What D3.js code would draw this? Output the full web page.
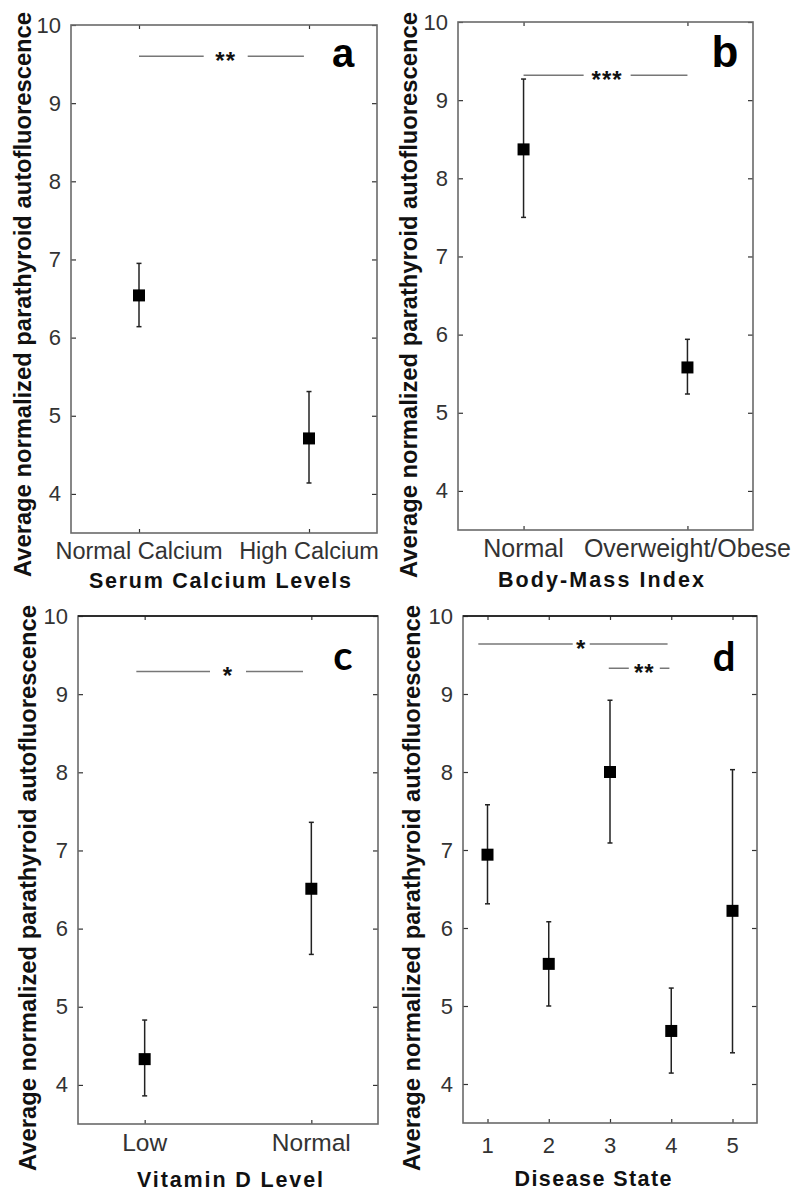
<!DOCTYPE html>
<html><head><meta charset="utf-8">
<script src="https://cdn.jsdelivr.net/npm/d3@7"></script>
<style>
html,body{margin:0;padding:0;background:#fff;}
svg{display:block;}
</style></head>
<body>
<svg id="chart" width="800" height="1191"></svg>
<script>
// ---------------- DATA ----------------
const yTicks = [4, 5, 6, 7, 8, 9, 10];
const yDomain = [3.5, 10];
const yLabelText = "Average normalized parathyroid autofluorescence";

const catsA = ["Normal Calcium", "High Calcium"];
const meanA = [6.54, 4.71];
const lowA  = [6.14, 4.14];
const highA = [6.95, 5.31];
const sigA  = [{x0: 1.0, x1: 1.97, xm: 1.51, y: 9.6, text: "**"}];

const catsB = ["Normal", "Overweight/Obese"];
const meanB = [8.37, 5.58];
const lowB  = [7.50, 5.24];
const highB = [9.27, 5.94];
const sigB  = [{x0: 1.0, x1: 2.0, xm: 1.51, y: 9.32, text: "***"}];

const catsC = ["Low", "Normal"];
const meanC = [4.33, 6.51];
const lowC  = [3.86, 5.67];
const highC = [4.83, 7.36];
const sigC  = [{x0: 0.95, x1: 1.95, xm: 1.50, y: 9.29, text: "*"}];

const catsD = ["1", "2", "3", "4", "5"];
const meanD = [6.94, 5.54, 8.00, 4.68, 6.22];
const lowD  = [6.31, 5.00, 7.09, 4.14, 4.40];
const highD = [7.58, 6.08, 8.92, 5.23, 8.03];
const sigD  = [
  {x0: 0.85, x1: 3.94, xm: 2.53, y: 9.64, text: "*"},
  {x0: 2.98, x1: 3.97, xm: 3.56, y: 9.33, text: "**"}
];

// ---------------- LAYOUT ----------------
const panels = [
  {cats: catsA, mean: meanA, low: lowA, high: highA, sig: sigA, gaps: [22],
   box: {l: 71, t: 25, r: 377, b: 533}, topDark: false,
   yLab: {x: 31, c: 294.5, len: 565},
   xTickY: 559, xTickFont: 23.5,
   xTitle: {text: "Serum Calcium Levels", x: 220, y: 588, len: 262},
   letter: {text: "a", x: 343, y: 67, size: 40, family: "Liberation Sans, Arial, sans-serif"}},
  {cats: catsB, mean: meanB, low: lowB, high: highB, sig: sigB, gaps: [23.5],
   box: {l: 458, t: 22, r: 753, b: 530}, topDark: false,
   yLab: {x: 417, c: 295, len: 566},
   xTickY: 557, xTickFont: 25,
   xTitle: {text: "Body-Mass Index", x: 601, y: 587, len: 206},
   letter: {text: "b", x: 725, y: 67, size: 44, family: "Liberation Sans, Arial, sans-serif"}},
  {cats: catsC, mean: meanC, low: lowC, high: highC, sig: sigC, gaps: [18],
   box: {l: 78, t: 616, r: 378, b: 1124}, topDark: true,
   yLab: {x: 36, c: 888, len: 566},
   xTickY: 1151, xTickFont: 24.5,
   xTitle: {text: "Vitamin D Level", x: 230, y: 1187, len: 186},
   letter: {text: "c", x: 343, y: 670, size: 40, family: "Lato, sans-serif"}},
  {cats: catsD, mean: meanD, low: lowD, high: highD, sig: sigD, gaps: [8.5, 15.5],
   box: {l: 463, t: 616, r: 757, b: 1123}, topDark: true,
   yLab: {x: 420, c: 888, len: 566},
   xTickY: 1153, xTickFont: 22,
   xTitle: {text: "Disease State", x: 593, y: 1186, len: 157},
   letter: {text: "d", x: 724, y: 671, size: 40, family: "Lato, sans-serif"}}
];

const svg = d3.select("#chart");
const FONT = "Liberation Sans, Arial, Helvetica, sans-serif";

panels.forEach(p => {
  const g = svg.append("g");
  const n = p.cats.length;
  const x = d3.scaleLinear().domain([0.6, n + 0.4]).range([p.box.l, p.box.r]);
  const y = d3.scaleLinear().domain(yDomain).range([p.box.b, p.box.t]);
  const catPos = p.cats.map((c, i) => i + 1);

  // y ticks (left axis, inward)
  const yAxisL = d3.axisLeft(y).tickValues(yTicks).tickSize(-5).tickPadding(10).tickFormat(d3.format("d"));
  const gl = g.append("g").attr("transform", `translate(${p.box.l},0)`).call(yAxisL);
  gl.select(".domain").remove();
  gl.selectAll(".tick line").attr("stroke", "#333").attr("stroke-width", 1.2);
  gl.selectAll(".tick text").attr("font-family", FONT).attr("font-size", 22).attr("fill", "#333");

  const yAxisR = d3.axisRight(y).tickValues(yTicks).tickSize(-5).tickFormat("");
  const gr = g.append("g").attr("transform", `translate(${p.box.r},0)`).call(yAxisR);
  gr.select(".domain").remove();
  gr.selectAll(".tick line").attr("stroke", "#333").attr("stroke-width", 1.2);

  // x ticks (bottom and top, inward)
  const xAxisB = d3.axisBottom(x).tickValues(catPos).tickSize(-4).tickFormat("");
  const gb = g.append("g").attr("transform", `translate(0,${p.box.b})`).call(xAxisB);
  gb.select(".domain").remove();
  gb.selectAll(".tick line").attr("stroke", "#333").attr("stroke-width", 1.2);
  const xAxisT = d3.axisTop(x).tickValues(catPos).tickSize(-4).tickFormat("");
  const gt = g.append("g").attr("transform", `translate(0,${p.box.t})`).call(xAxisT);
  gt.select(".domain").remove();
  gt.selectAll(".tick line").attr("stroke", "#333").attr("stroke-width", 1.2);

  // x tick labels
  g.selectAll("text.xcat").data(p.cats).enter().append("text")
    .attr("class", "xcat")
    .attr("x", (d, i) => x(i + 1)).attr("y", p.xTickY)
    .attr("text-anchor", "middle")
    .attr("font-family", FONT).attr("font-size", p.xTickFont).attr("fill", "#333")
    .text(d => d);

  // box
  g.append("rect")
    .attr("x", p.box.l).attr("y", p.box.t)
    .attr("width", p.box.r - p.box.l).attr("height", p.box.b - p.box.t)
    .attr("fill", "none").attr("stroke", "#6a6a6a").attr("stroke-width", 1.6);
  if (p.topDark) {
    g.append("line").attr("x1", p.box.l).attr("x2", p.box.r)
      .attr("y1", p.box.t).attr("y2", p.box.t)
      .attr("stroke", "#111").attr("stroke-width", 1.6);
  }

  // error bars
  const idx = d3.range(n);
  g.selectAll("line.eb").data(idx).enter().append("line")
    .attr("class", "eb")
    .attr("x1", i => x(i + 1)).attr("x2", i => x(i + 1))
    .attr("y1", i => y(p.low[i])).attr("y2", i => y(p.high[i]))
    .attr("stroke", "#222").attr("stroke-width", 1.5);
  ["low", "high"].forEach(k => {
    g.selectAll("line.cap" + k).data(idx).enter().append("line")
      .attr("class", "cap" + k)
      .attr("x1", i => x(i + 1) - 2.5).attr("x2", i => x(i + 1) + 2.5)
      .attr("y1", i => y(p[k][i])).attr("y2", i => y(p[k][i]))
      .attr("stroke", "#222").attr("stroke-width", 1.5);
  });
  // markers
  g.selectAll("rect.mk").data(idx).enter().append("rect")
    .attr("class", "mk")
    .attr("x", i => x(i + 1) - 6).attr("y", i => y(p.mean[i]) - 6)
    .attr("width", 12).attr("height", 12).attr("fill", "#000");

  // significance brackets
  p.sig.forEach((s, j) => {
    const gap = p.gaps[j];
    const xm = x(s.xm), yy = y(s.y);
    g.append("line").attr("x1", x(s.x0)).attr("x2", xm - gap)
      .attr("y1", yy).attr("y2", yy).attr("stroke", "#777").attr("stroke-width", 1.5);
    g.append("line").attr("x1", xm + gap).attr("x2", x(s.x1))
      .attr("y1", yy).attr("y2", yy).attr("stroke", "#777").attr("stroke-width", 1.5);
    g.append("text").attr("x", xm).attr("y", yy + 13)
      .attr("text-anchor", "middle")
      .attr("font-family", FONT).attr("font-weight", "bold").attr("font-size", 24)
      .attr("letter-spacing", 1).attr("fill", "#111")
      .text(s.text);
  });

  // panel letter
  g.append("text").attr("x", p.letter.x).attr("y", p.letter.y)
    .attr("text-anchor", "middle")
    .attr("font-family", p.letter.family).attr("font-weight", "bold")
    .attr("font-size", p.letter.size).attr("fill", "#000")
    .text(p.letter.text);

  // y label
  g.append("text")
    .attr("transform", `translate(${p.yLab.x},${p.yLab.c}) rotate(-90)`)
    .attr("text-anchor", "middle")
    .attr("font-family", FONT).attr("font-weight", "bold").attr("font-size", 23.5)
    .attr("textLength", p.yLab.len).attr("lengthAdjust", "spacingAndGlyphs")
    .attr("fill", "#111")
    .text(yLabelText);

  // x title
  g.append("text")
    .attr("x", p.xTitle.x).attr("y", p.xTitle.y)
    .attr("text-anchor", "middle")
    .attr("font-family", FONT).attr("font-weight", "bold").attr("font-size", 21.5)
    .attr("textLength", p.xTitle.len).attr("lengthAdjust", "spacing")
    .attr("fill", "#111")
    .text(p.xTitle.text);
});
</script>
</body></html>
